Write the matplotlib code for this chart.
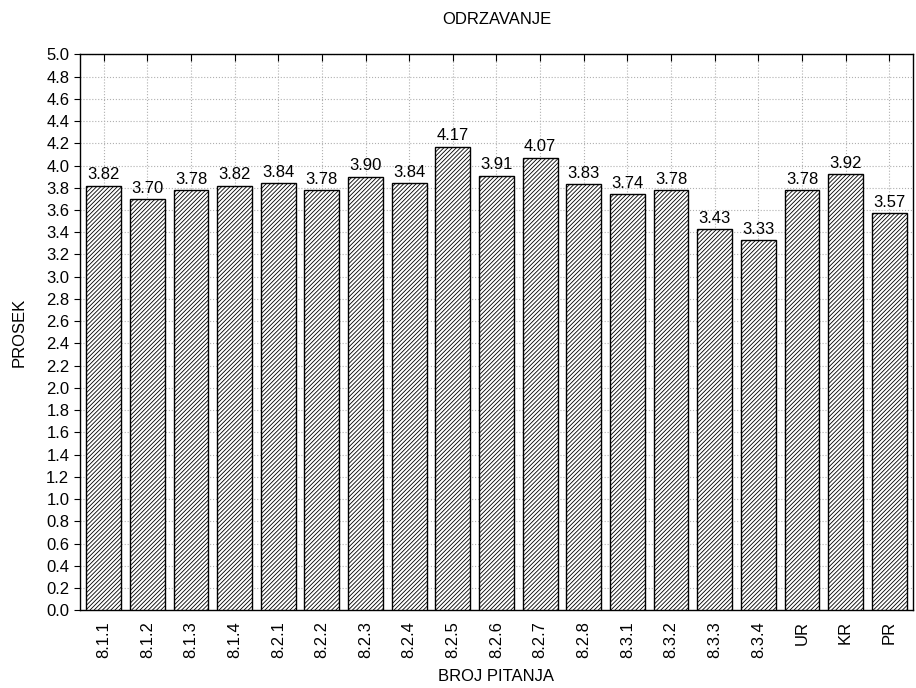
import numpy as np
import matplotlib
matplotlib.use("Agg")
import matplotlib.pyplot as plt

plt.rcParams['font.family'] = ['Liberation Sans', 'DejaVu Sans']
plt.rcParams['hatch.linewidth'] = 0.6

labels = ["8.1.1", "8.1.2", "8.1.3", "8.1.4", "8.2.1", "8.2.2", "8.2.3", "8.2.4",
          "8.2.5", "8.2.6", "8.2.7", "8.2.8", "8.3.1", "8.3.2", "8.3.3", "8.3.4",
          "UR", "KR", "PR"]
values = [3.82, 3.70, 3.78, 3.82, 3.84, 3.78, 3.90, 3.84, 4.17, 3.91, 4.07,
          3.83, 3.74, 3.78, 3.43, 3.33, 3.78, 3.92, 3.57]

fig = plt.figure(figsize=(9.16, 6.88), dpi=100)
ax = fig.add_axes([0.087, 0.113, 0.91, 0.808])

x = np.arange(len(labels))
ax.bar(x, values, width=0.8, color='white', edgecolor='black', hatch='////////',
       linewidth=1.0, zorder=3)
for xi, v in zip(x, values):
    ax.text(xi, v + 0.03, f"{v:.2f}", ha='center', va='bottom', fontsize=12, zorder=4)

ax.set_xlim(-0.55, len(labels) - 0.45)
ax.set_ylim(0, 5.0)
ax.set_yticks(np.arange(0, 5.01, 0.2))
ax.set_yticklabels([f"{t:.1f}" for t in np.arange(0, 5.01, 0.2)])
ax.set_xticks(x)
ax.set_xticklabels(labels, rotation=90)
ax.tick_params(axis='x', direction='in', top=True, length=5, labelsize=12, pad=8)
ax.tick_params(axis='y', direction='out', length=4, labelsize=12)
ax.grid(True, linestyle=':', color='#b0b0b0', linewidth=0.8, zorder=0)
for s in ax.spines.values():
    s.set_linewidth(1.0)

ax.set_title("ODRZAVANJE", fontsize=12, pad=22)
ax.set_xlabel("BROJ PITANJA", fontsize=12, labelpad=8)
ax.set_ylabel("PROSEK", fontsize=12, labelpad=14)

fig.savefig("out.png", dpi=100)
